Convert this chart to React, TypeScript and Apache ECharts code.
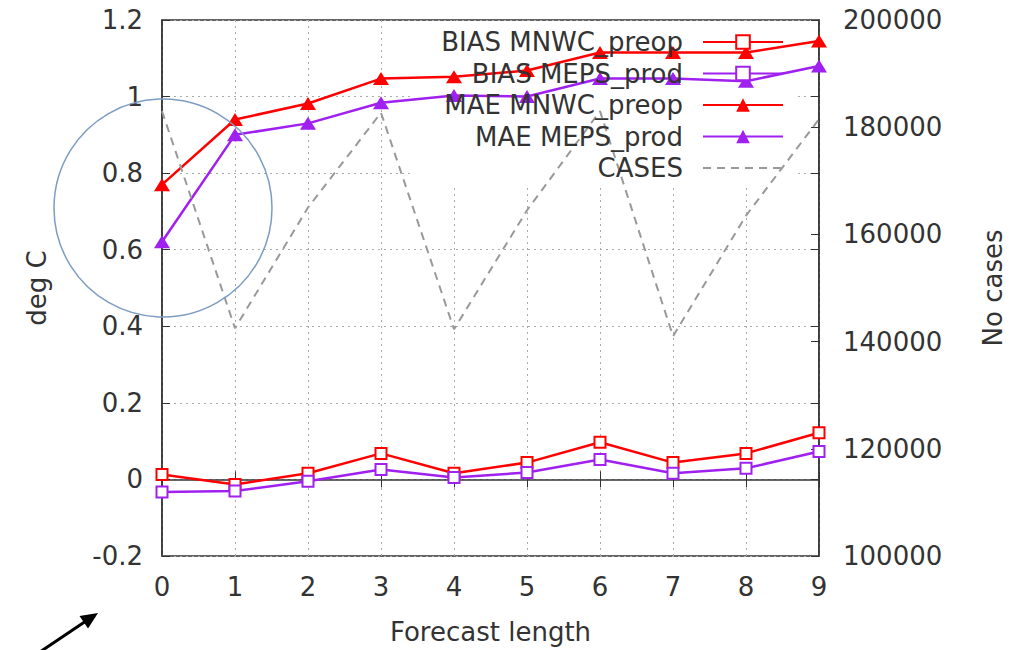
import React, { useEffect, useRef } from "react";
import * as echarts from "echarts";

const steps = ["0", "1", "2", "3", "4", "5", "6", "7", "8", "9"];
const biasMnwc = [0.013, -0.013, 0.016, 0.068, 0.016, 0.044, 0.097, 0.044, 0.068, 0.122];
const biasMeps = [-0.033, -0.03, -0.005, 0.026, 0.005, 0.018, 0.052, 0.016, 0.029, 0.073];
const maeMnwc = [0.77, 0.94, 0.982, 1.047, 1.052, 1.068, 1.115, 1.115, 1.115, 1.145];
const maeMeps = [0.621, 0.9, 0.93, 0.984, 1.003, 1.0, 1.047, 1.047, 1.04, 1.08];
const cases = [183000, 142500, 165000, 182700, 142300, 164500, 183000, 141000, 163500, 181500];

const RED = "#ff0000";
const PURPLE = "#a020f0";
const TXT = "#333333";
const FONT = "DejaVu Sans";

export default function App() {
  const ref = useRef<HTMLDivElement>(null);
  useEffect(() => {
    if (!ref.current) return;
    const chart = echarts.init(ref.current, null, { renderer: "svg" });
    const axisText = { fontSize: 26, color: TXT, fontFamily: FONT };
    const option: any = {
      animation: false,
      textStyle: { fontFamily: FONT },
      grid: {
        left: 162, right: 205, top: 20, bottom: 93,
        show: true, borderColor: "#333", borderWidth: 1.5,
      },
      legend: {
        orient: "vertical",
        right: 235,
        top: 24,
        align: "right",
        itemWidth: 80,
        itemHeight: 17,
        itemGap: 5.5,
        textStyle: { fontSize: 26, lineHeight: 26, color: TXT, fontFamily: FONT, padding: [0, 15, 0, 0] },
        data: [
          "BIAS MNWC_preop",
          "BIAS MEPS_prod",
          "MAE MNWC_preop",
          "MAE MEPS_prod",
          { name: "CASES", itemStyle: { opacity: 0 } },
        ],
      },
      xAxis: [
        {
          type: "category", data: steps, boundaryGap: false,
          name: "Forecast length", nameLocation: "middle", nameGap: 63,
          nameTextStyle: axisText,
          axisLine: { show: true, lineStyle: { color: "#333", width: 1.5 } },
          axisTick: { show: true, inside: true, length: 8, lineStyle: { color: "#333" } },
          axisLabel: { ...axisText, margin: 18 },
          splitLine: { show: true, lineStyle: { color: "#aaa", type: [2, 4], width: 1 } },
        },
        {
          type: "category", data: steps, boundaryGap: false, position: "top", z: 3,
          axisLine: { show: false },
          axisTick: { show: true, inside: true, length: 8, lineStyle: { color: "#333" } },
          axisLabel: { show: false },
          splitLine: { show: false },
        },
      ],
      yAxis: [
        {
          type: "value", min: -0.2, max: 1.2, interval: 0.2, position: "left",
          name: "deg C", nameLocation: "middle", nameGap: 112, nameRotate: 90,
          nameTextStyle: axisText,
          axisLine: { show: true, lineStyle: { color: "#333", width: 1.5 } },
          axisTick: { show: true, inside: true, length: 8, lineStyle: { color: "#333" } },
          axisLabel: { ...axisText, margin: 19 },
          splitLine: { show: true, lineStyle: { color: "#aaa", type: [2, 4], width: 1 } },
        },
        {
          type: "value", min: 100000, max: 200000, interval: 20000, position: "right",
          name: "No cases", nameLocation: "middle", nameGap: 161, nameRotate: 90,
          nameTextStyle: axisText,
          axisLine: { show: true, lineStyle: { color: "#333", width: 1.5 } },
          axisTick: { show: true, inside: true, length: 8, lineStyle: { color: "#333" } },
          axisLabel: { ...axisText, margin: 24, formatter: (v: number) => String(v) },
          splitLine: { show: false },
        },
        {
          type: "value", min: -0.2, max: 1.2, interval: 0.2, position: "right",
          axisLine: { show: false },
          axisTick: { show: true, inside: true, length: 8, lineStyle: { color: "#333" } },
          axisLabel: { show: false },
          splitLine: { show: false },
        },
      ],
      graphic: [
        { type: "rect", z: 1, silent: true, shape: { x: 413, y: 21, width: 384, height: 166 }, style: { fill: "#ffffff" } },
        { type: "circle", z: 10, silent: true, shape: { cx: 163, cy: 208, r: 109 }, style: { fill: "none", stroke: "#7d9cc2", lineWidth: 1.5 } },
        { type: "line", z: 10, silent: true, shape: { x1: 28, y1: 660, x2: 86, y2: 621 }, style: { stroke: "#000", lineWidth: 3 } },
        { type: "polygon", z: 10, silent: true, shape: { points: [[98, 613], [88, 628.5], [79.5, 616]] }, style: { fill: "#000" } },
      ],
      series: [
        {
          name: "BIAS MNWC_preop", type: "line", data: biasMnwc, yAxisIndex: 0,
          symbol: "emptyRect", symbolSize: 11, showAllSymbol: true,
          lineStyle: { color: RED, width: 2.5 }, itemStyle: { color: RED, borderWidth: 2 },
        },
        {
          name: "BIAS MEPS_prod", type: "line", data: biasMeps, yAxisIndex: 0,
          symbol: "emptyRect", symbolSize: 11, showAllSymbol: true,
          lineStyle: { color: PURPLE, width: 2.5 }, itemStyle: { color: PURPLE, borderWidth: 2 },
        },
        {
          name: "MAE MNWC_preop", type: "line", data: maeMnwc, yAxisIndex: 0,
          symbol: "triangle", symbolSize: [16, 13], showAllSymbol: true,
          lineStyle: { color: RED, width: 2.5 }, itemStyle: { color: RED },
        },
        {
          name: "MAE MEPS_prod", type: "line", data: maeMeps, yAxisIndex: 0,
          symbol: "triangle", symbolSize: [16, 13], showAllSymbol: true,
          lineStyle: { color: PURPLE, width: 2.5 }, itemStyle: { color: PURPLE },
        },
        {
          name: "CASES", type: "line", data: cases, yAxisIndex: 1,
          symbol: "none",
          lineStyle: { color: "#999999", width: 2, type: [8, 6] }, itemStyle: { color: "#999999" },
        },
      ],
    };
    chart.setOption(option);
    return () => chart.dispose();
  }, []);
  return (
    <div
      ref={ref}
      style={{ position: "absolute", left: 0, top: 0, width: 1024, height: 650, background: "#fff" }}
    />
  );
}
